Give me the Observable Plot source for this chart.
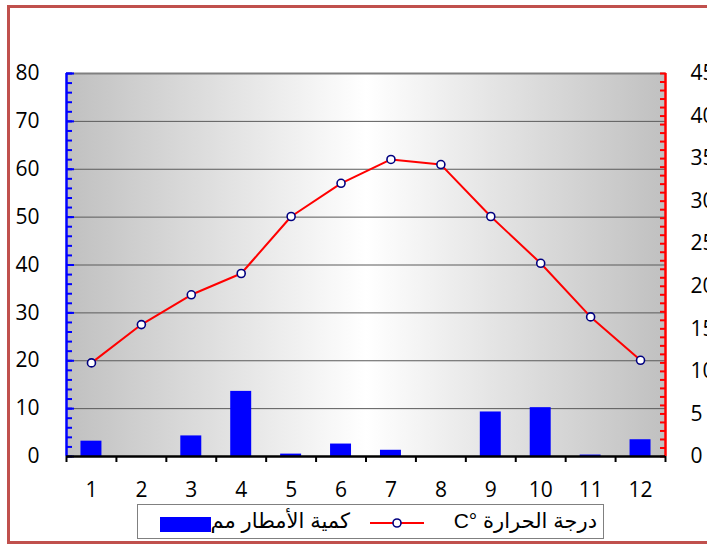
<!DOCTYPE html>
<html>
<head>
<meta charset="utf-8">
<script src="https://cdn.jsdelivr.net/npm/d3@7"></script>
<script src="https://cdn.jsdelivr.net/npm/@observablehq/plot@0.6"></script>
<style>
  html, body { margin: 0; padding: 0; background: #fff; }
  #wrap { position: relative; width: 707px; height: 545px; overflow: hidden; }
  #frame { position: absolute; left: 7px; top: 5px; width: 730px; height: 533px; border: 3px solid #c0504d; box-sizing: content-box; pointer-events: none; }
  #legend { position: absolute; left: 137px; top: 504px; width: 467px; height: 35px; border: 1px solid #808080; background: #fff; box-sizing: border-box; font-family: "Liberation Sans", "DejaVu Sans", sans-serif; font-size: 21px; color: #000; }
  #legend .item { position: absolute; white-space: nowrap; line-height: 1; }
  #chart svg { position: absolute; left: 0; top: 0; }
</style>
</head>
<body>
<div id="wrap">
  <div id="chart"></div>
  <div id="frame"></div>
  <div id="legend"></div>
</div>
<script>
// Data
const months = [1, 2, 3, 4, 5, 6, 7, 8, 9, 10, 11, 12];
const rainfall = [3.2, 0, 4.3, 13.6, 0.5, 2.6, 1.3, 0, 9.3, 10.2, 0.3, 3.5];       // mm (left axis)
const temperature = [11, 15.5, 19, 21.5, 28.2, 32.1, 34.9, 34.3, 28.2, 22.7, 16.4, 11.3]; // °C (right axis)
const leftTicks = [0, 10, 20, 30, 40, 50, 60, 70, 80];
const rightTicks = [0, 5, 10, 15, 20, 25, 30, 35, 40, 45];
const rainLabel = "كمية الأمطار مم";
const tempLabel = "درجة الحرارة °C";

const LEFT_MAX = 80, RIGHT_MAX = 45;
const toLeft = t => t * LEFT_MAX / RIGHT_MAX;
const barHalf = 0.21;

const data = months.map((m, i) => ({month: m, rain: rainfall[i], temp: temperature[i]}));

const chart = Plot.plot({
  width: 707,
  height: 545,
  marginLeft: 66,
  marginRight: 42,
  marginTop: 73,
  marginBottom: 89,
  style: {fontFamily: "'Open Sans', sans-serif", fontSize: "20px", background: "transparent", color: "#000"},
  x: {type: "linear", domain: [0.5, 12.5], axis: null, label: null},
  y: {domain: [0, LEFT_MAX], axis: null, label: null},
  marks: [
    Plot.frame({fill: "url(#bgGrad)", stroke: "none"}),
    Plot.ruleY(leftTicks.filter(v => v > 0 && v < LEFT_MAX), {stroke: "#5a5a5a", strokeWidth: 1}),
    Plot.ruleY([LEFT_MAX], {stroke: "#808080", strokeWidth: 2}),
    Plot.rectY(data, {x1: d => d.month - barHalf, x2: d => d.month + barHalf, y: "rain", fill: "#0000ff"}),
    // left axis (precipitation)
    Plot.ruleX([0.5], {stroke: "#0000ff", strokeWidth: 2.5}),
    Plot.axisY(d3.range(0, LEFT_MAX + 1, 2), {tickSize: -6, stroke: "#0000ff", strokeWidth: 2, fill: "none", label: null}),
    Plot.axisY(leftTicks, {tickSize: -8, stroke: "#0000ff", strokeWidth: 2, fill: "none", label: null}),
    Plot.axisY(leftTicks, {tickSize: 0, tickPadding: 27, fontSize: 21, fill: "#000", label: null}),
    // right axis (temperature)
    Plot.ruleX([12.5], {stroke: "#ff0000", strokeWidth: 2.5}),
    Plot.axisY(d3.range(0, RIGHT_MAX + 1, 1).map(toLeft), {anchor: "right", tickSize: -6, stroke: "#ff0000", strokeWidth: 2, fill: "none", label: null}),
    Plot.axisY(rightTicks.map(toLeft), {anchor: "right", tickSize: 0, tickPadding: 25, fontSize: 21, fill: "#000", label: null,
      tickFormat: v => String(Math.round(v * RIGHT_MAX / LEFT_MAX))}),
    // x axis
    Plot.ruleY([0], {stroke: "#000", strokeWidth: 2.5}),
    Plot.axisX(d3.range(0.5, 12.6, 1), {tickSize: 6, stroke: "#000", strokeWidth: 2, fill: "none", label: null}),
    Plot.axisX(months, {tickSize: 0, tickPadding: 26, fontSize: 21, fill: "#000", label: null, tickFormat: d => String(d)}),
    // temperature line
    Plot.line(data, {x: "month", y: d => toLeft(d.temp), stroke: "#ff0000", strokeWidth: 2}),
    Plot.dot(data, {x: "month", y: d => toLeft(d.temp), r: 4, fill: "#fff", stroke: "#000080", strokeWidth: 1.6})
  ]
});

// gradient background definition
const ns = "http://www.w3.org/2000/svg";
const defs = document.createElementNS(ns, "defs");
defs.innerHTML = `<linearGradient id="bgGrad" x1="0" x2="1" y1="0" y2="0">
  <stop offset="0" stop-color="#c0c0c0"/>
  <stop offset="0.5" stop-color="#ffffff"/>
  <stop offset="1" stop-color="#c0c0c0"/>
</linearGradient>`;
chart.insertBefore(defs, chart.firstChild);
document.getElementById("chart").appendChild(chart);

// legend
const legend = document.getElementById("legend");
legend.innerHTML = `
  <div class="item" style="left:22px; top:12px; width:51px; height:15px; background:#0000ff;"></div>
  <div class="item" dir="rtl" style="left:70px; top:5px; width:142px; text-align:right;">${rainLabel}</div>
  <svg class="item" style="left:232px; top:10px;" width="54" height="16">
    <line x1="0" x2="54" y1="8" y2="8" stroke="#ff0000" stroke-width="2"/>
    <circle cx="27" cy="8" r="4" fill="#fff" stroke="#000080" stroke-width="1.6"/>
  </svg>
  <div class="item" dir="rtl" style="left:296px; top:5px; width:163px; text-align:right;">${tempLabel}</div>
`;
</script>
</body>
</html>
